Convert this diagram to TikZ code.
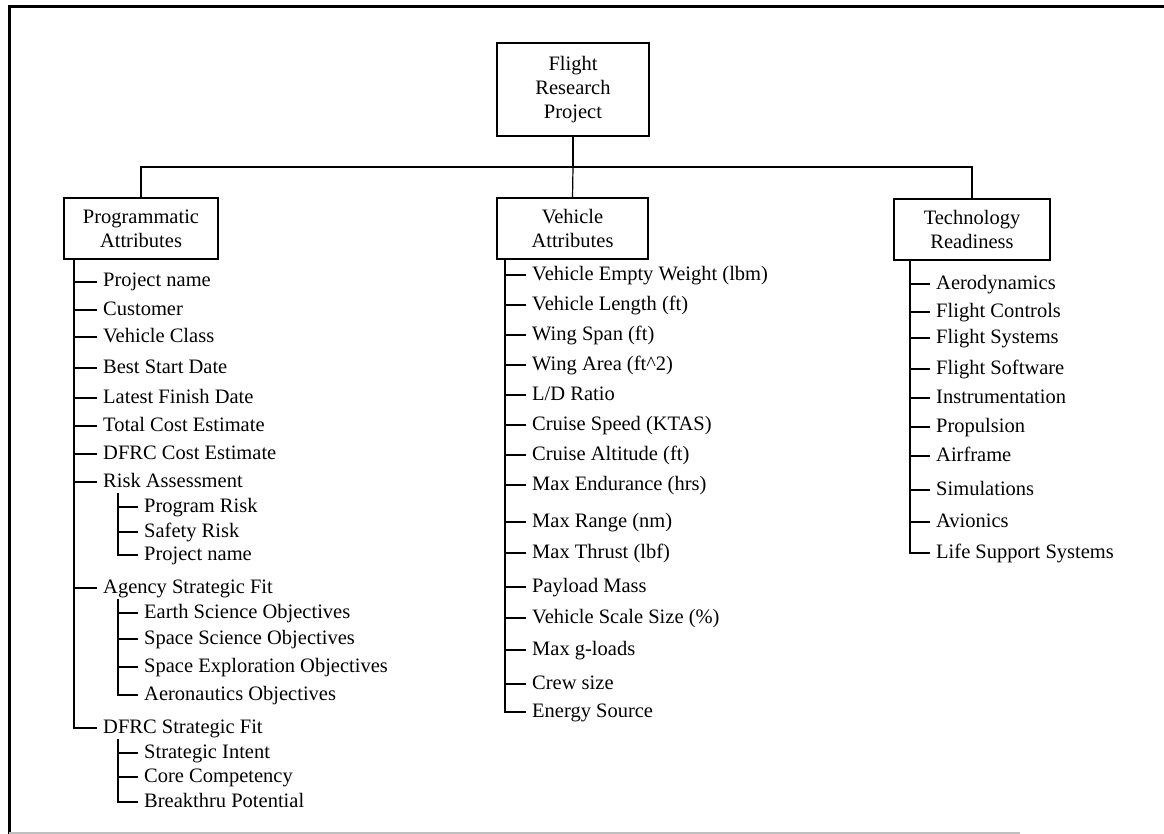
\documentclass[tikz,border=0pt]{standalone}
\usepackage{fontspec}
\setmainfont{Liberation Serif}
\tikzset{
  box/.style={draw, line width=1.2pt, align=center, inner sep=0pt,
    font=\fontsize{20.5}{24}\selectfont},
  leaf/.style={anchor=west, inner xsep=6pt, inner ysep=2pt,
    text height=14pt, text depth=4pt, font=\fontsize{20.5}{24}\selectfont},
  wire/.style={line width=1.2pt}
}
\begin{document}
\begin{tikzpicture}[x=1pt,y=-1pt]
\useasboundingbox (0,0) rectangle (1164,834);
% frame
\draw[line width=3pt] (1164,7) -- (9,7) -- (9,834);
\draw[gray!50, line width=1.5pt] (9,833) -- (1020,833);
% top of tree
\node[box, minimum width=152pt, minimum height=93pt] (root) at (573,89.5) {Flight\\Research\\Project};
\node[box, minimum width=154pt, minimum height=61pt] (prog) at (141,228.5) {Programmatic\\Attributes};
\node[box, minimum width=151pt, minimum height=61pt] (veh) at (572.5,228.5) {Vehicle\\Attributes};
\node[box, minimum width=156pt, minimum height=61pt] (tech) at (972,229.5) {Technology\\Readiness};
\coordinate (bus) at (root.south |- 0,167);
\draw[wire] (root.south) -- (bus);
\draw[wire] (prog.north) |- (bus) -| (tech.north);
\draw[wire] (bus) -- (veh.north);
% programmatic attributes
\node[leaf] (pa1) at (97,282) {Project name};
\node[leaf] (pa2) at (97,310) {Customer};
\node[leaf] (pa3) at (97,337) {Vehicle Class};
\node[leaf] (pa4) at (97,368) {Best Start Date};
\node[leaf] (pa5) at (97,398) {Latest Finish Date};
\node[leaf] (pa6) at (97,426) {Total Cost Estimate};
\node[leaf] (pa7) at (97,454) {DFRC Cost Estimate};
\node[leaf] (risk) at (97,482) {Risk Assessment};
\node[leaf] (rk1) at (138,507) {Program Risk};
\node[leaf] (rk2) at (138,532) {Safety Risk};
\node[leaf] (rk3) at (138,555) {Project name};
\node[leaf] (agency) at (97,588) {Agency Strategic Fit};
\node[leaf] (ag1) at (138,613) {Earth Science Objectives};
\node[leaf] (ag2) at (138,639) {Space Science Objectives};
\node[leaf] (ag3) at (138,667) {Space Exploration Objectives};
\node[leaf] (ag4) at (138,695) {Aeronautics Objectives};
\node[leaf] (dfrc) at (97,728) {DFRC Strategic Fit};
\node[leaf] (df1) at (138,753) {Strategic Intent};
\node[leaf] (df2) at (138,777) {Core Competency};
\node[leaf] (df3) at (138,802) {Breakthru Potential};
\coordinate (ptrunk) at (74,259);
\draw[wire] (ptrunk) |- (dfrc.west);
\foreach \n in {pa1,pa2,pa3,pa4,pa5,pa6,pa7,risk,agency}
  \draw[wire] (\n.west -| ptrunk) -- (\n.west);
\draw[wire] ([xshift=21pt]risk.south west) |- (rk3.west);
\draw[wire] ([xshift=21pt]agency.south west) |- (ag4.west);
\draw[wire] ([xshift=21pt]dfrc.south west) |- (df3.west);
\foreach \n in {rk1,rk2,ag1,ag2,ag3,df1,df2}
  \draw[wire] ([xshift=-20pt]\n.west) -- (\n.west);
% vehicle attributes
\node[leaf] (va1) at (526,275) {Vehicle Empty Weight (lbm)};
\node[leaf] (va2) at (526,305) {Vehicle Length (ft)};
\node[leaf] (va3) at (526,335) {Wing Span (ft)};
\node[leaf] (va4) at (526,365) {Wing Area (ft\textasciicircum 2)};
\node[leaf] (va5) at (526,395) {L/D Ratio};
\node[leaf] (va6) at (526,425) {Cruise Speed (KTAS)};
\node[leaf] (va7) at (526,455) {Cruise Altitude (ft)};
\node[leaf] (va8) at (526,485) {Max Endurance (hrs)};
\node[leaf] (va9) at (526,522) {Max Range (nm)};
\node[leaf] (va10) at (526,553) {Max Thrust (lbf)};
\node[leaf] (va11) at (526,587) {Payload Mass};
\node[leaf] (va12) at (526,618) {Vehicle Scale Size (\%)};
\node[leaf] (va13) at (526,650) {Max g-loads};
\node[leaf] (va14) at (526,684) {Crew size};
\node[leaf] (va15) at (526,712) {Energy Source};
\coordinate (vtrunk) at (505,259);
\draw[wire] (vtrunk) |- (va15.west);
\foreach \n in {va1,va2,va3,va4,va5,va6,va7,va8,va9,va10,va11,va12,va13,va14}
  \draw[wire] (\n.west -| vtrunk) -- (\n.west);
% technology readiness
\node[leaf] (tr1) at (930,284) {Aerodynamics};
\node[leaf] (tr2) at (930,312) {Flight Controls};
\node[leaf] (tr3) at (930,338) {Flight Systems};
\node[leaf] (tr4) at (930,369) {Flight Software};
\node[leaf] (tr5) at (930,398) {Instrumentation};
\node[leaf] (tr6) at (930,427) {Propulsion};
\node[leaf] (tr7) at (930,456) {Airframe};
\node[leaf] (tr8) at (930,490) {Simulations};
\node[leaf] (tr9) at (930,522) {Avionics};
\node[leaf] (tr10) at (930,553) {Life Support Systems};
\coordinate (ttrunk) at (910,260);
\draw[wire] (ttrunk) |- (tr10.west);
\foreach \n in {tr1,tr2,tr3,tr4,tr5,tr6,tr7,tr8,tr9}
  \draw[wire] (\n.west -| ttrunk) -- (\n.west);
\end{tikzpicture}
\end{document}
